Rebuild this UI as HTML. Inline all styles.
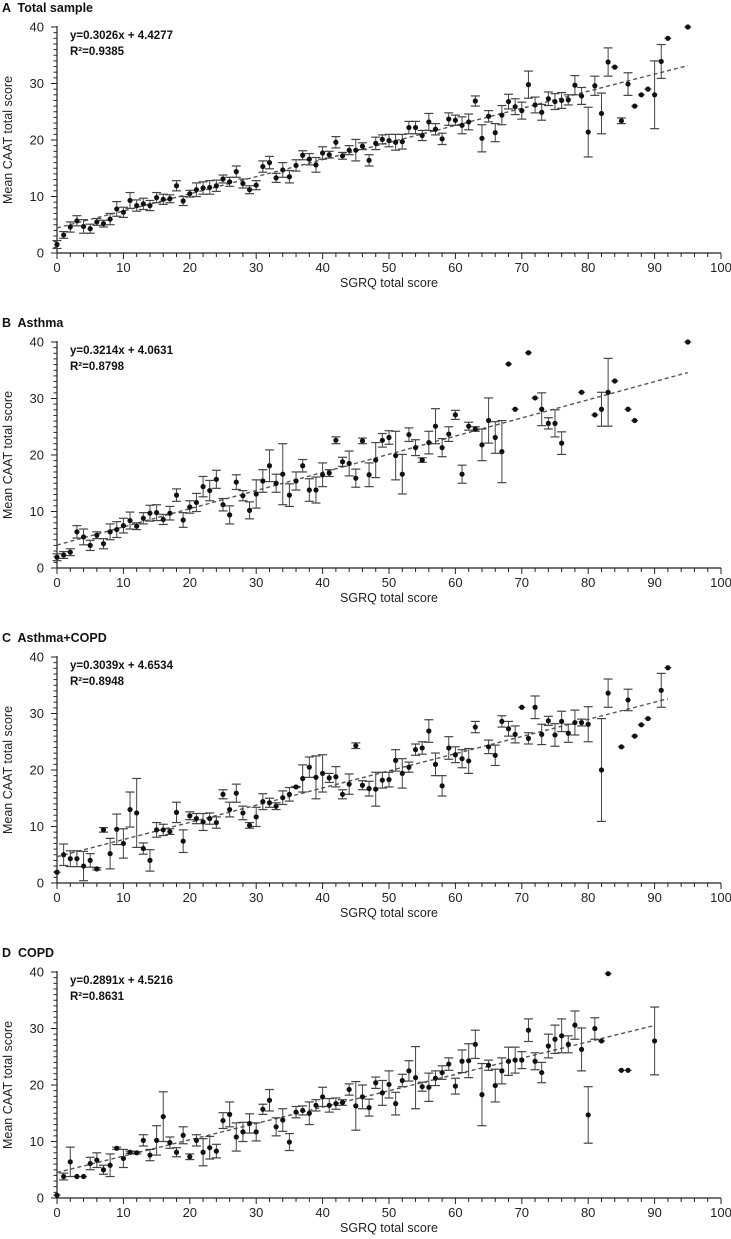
<!DOCTYPE html>
<html><head><meta charset="utf-8">
<style>
html,body{margin:0;padding:0;background:#fff;}
svg{display:block;font-family:"Liberation Sans",Arial,sans-serif;}
</style></head>
<body>
<svg id="chart" width="731" height="1239" viewBox="0 0 731 1239" xmlns="http://www.w3.org/2000/svg"></svg>
<script>
// ---- data: [SGRQ score, mean CAAT, error half-width] ----
const totalSample = [[0,1.5,0.7],[1,3.2,0.6],[2,4.6,0.9],[3,5.7,0.9],[4,4.7,1.2],[5,4.3,0.8],[6,5.5,0.6],[7,5.2,0.6],[8,6.0,1.0],[9,7.8,1.3],[10,7.2,0.9],[11,9.3,1.4],[12,8.4,1.0],[13,8.7,1.0],[14,8.4,0.9],[15,9.8,0.9],[16,9.5,0.9],[17,9.6,0.7],[18,11.9,0.9],[19,9.2,0.8],[20,10.5,0.6],[21,11.2,1.2],[22,11.5,1.1],[23,11.6,1.2],[24,11.9,1.0],[25,13.1,0.7],[26,12.6,0.8],[27,14.4,1.0],[28,12.3,0.8],[29,11.2,0.7],[30,12.0,0.8],[31,15.3,1.0],[32,16.0,1.1],[33,13.3,0.8],[34,14.7,1.3],[35,13.5,1.1],[36,15.5,1.0],[37,17.3,0.8],[38,16.6,1.0],[39,15.6,1.3],[40,17.7,1.1],[41,17.4,0.6],[42,19.6,1.0],[43,17.2,0.6],[44,18.2,0.8],[45,18.2,1.9],[46,18.9,0.6],[47,16.4,1.0],[48,19.4,1.1],[49,20.1,0.8],[50,19.9,1.1],[51,19.6,1.4],[52,19.7,1.3],[53,22.2,1.1],[54,22.2,1.1],[55,20.8,0.9],[56,23.2,1.5],[57,21.9,1.0],[58,20.2,1.0],[59,23.7,1.1],[60,23.5,0.9],[61,22.6,1.5],[62,23.2,1.4],[63,26.9,0.9],[64,20.3,2.4],[65,24.2,1.0],[66,21.3,1.6],[67,24.4,1.7],[68,26.8,1.3],[69,25.9,1.4],[70,25.2,1.5],[71,29.8,2.4],[72,26.2,1.4],[73,24.9,1.4],[74,27.3,1.2],[75,26.8,1.4],[76,27.0,1.4],[77,27.1,0.9],[78,29.7,1.7],[79,27.8,1.5],[80,21.4,4.4],[81,29.6,1.7],[82,24.7,3.6],[83,33.8,2.5],[84,32.9,0],[85,23.4,0.5],[86,29.9,2.0],[87,26.0,0],[88,28.0,0],[89,29.0,0],[90,28.0,6.0],[91,33.9,3.0],[92,38.0,0],[95,40.0,0]];
const asthma = [[0,1.9,0.6],[1,2.3,0.6],[2,2.8,0.6],[3,6.4,1.1],[4,5.5,1.4],[5,4.0,0.9],[6,5.8,0.6],[7,4.3,0.9],[8,6.4,1.4],[9,6.8,1.4],[10,7.5,1.3],[11,8.4,1.5],[12,7.4,0.6],[13,8.8,1.0],[14,9.7,1.4],[15,9.8,1.4],[16,8.6,0.9],[17,9.7,1.2],[18,12.9,1.1],[19,8.5,1.3],[20,10.8,1.1],[21,11.6,1.6],[22,14.4,1.8],[23,13.7,1.8],[24,15.7,1.6],[25,11.2,1.1],[26,9.4,1.6],[27,15.2,1.3],[28,12.8,0.9],[29,10.2,1.5],[30,13.1,2.5],[31,15.4,2.0],[32,18.1,2.8],[33,15.0,1.6],[34,16.6,5.4],[35,12.9,2.0],[36,15.4,1.6],[37,18.1,1.1],[38,13.8,2.0],[39,13.8,2.3],[40,16.5,2.1],[41,16.8,0.6],[42,22.6,0.6],[43,18.8,0.8],[44,18.5,2.2],[45,15.9,1.6],[46,22.5,0.5],[47,16.5,2.1],[48,19.1,3.1],[49,22.6,1.2],[50,23.1,1.2],[51,19.9,4.3],[52,16.6,3.5],[53,23.6,1.2],[54,21.3,1.4],[55,19.1,0.4],[56,22.2,2.0],[57,25.1,3.1],[58,21.3,1.6],[59,23.7,1.3],[60,27.1,0.8],[61,16.6,1.6],[62,25.1,0.7],[63,24.6,0.4],[64,21.8,2.8],[65,26.1,4.0],[66,23.1,2.8],[67,20.6,5.5],[68,36.1,0],[69,28.1,0],[71,38.1,0],[72,30.1,0],[73,28.1,2.9],[74,25.6,1.0],[75,25.6,2.4],[76,22.1,2.0],[79,31.1,0],[81,27.1,0],[82,28.1,3.0],[83,31.1,6.0],[84,33.1,0],[86,28.1,0],[87,26.1,0],[95,40.0,0]];
const asthmaCopd = [[0,1.9,0],[1,5.0,1.9],[2,4.3,1.4],[3,4.3,1.4],[4,3.0,2.6],[5,4.0,1.2],[6,2.5,0.2],[7,9.4,0.4],[8,5.2,2.7],[9,9.5,2.7],[10,7.0,2.6],[11,13.0,3.1],[12,12.4,6.1],[13,6.1,1.0],[14,4.0,1.9],[15,9.4,1.3],[16,9.4,1.0],[17,9.1,0.5],[18,12.5,1.8],[19,7.4,2.0],[20,11.9,0.7],[21,11.4,0.9],[22,10.8,1.5],[23,11.4,1.0],[24,10.7,1.0],[25,15.7,0.8],[26,13.0,1.3],[27,15.9,1.6],[28,12.4,1.2],[29,10.2,0.5],[30,11.7,1.7],[31,14.4,1.4],[32,14.2,0.8],[33,13.6,0.6],[34,15.1,1.2],[35,15.7,1.2],[36,17.0,0.1],[37,18.5,2.4],[38,20.5,1.8],[39,18.7,3.8],[40,19.4,3.3],[41,18.6,0.8],[42,18.8,1.8],[43,15.7,0.8],[44,17.5,1.8],[45,24.3,0.5],[46,17.3,0.8],[47,16.7,1.3],[48,16.6,3.0],[49,18.2,1.4],[50,18.3,1.3],[51,21.7,1.9],[52,19.4,2.6],[53,20.5,0.9],[54,23.6,1.0],[55,23.9,1.1],[56,26.9,2.0],[57,21.0,2.0],[58,17.2,1.8],[59,23.9,2.0],[60,22.7,1.4],[61,22.0,1.6],[62,21.6,2.2],[63,27.6,1.0],[65,24.1,1.2],[66,22.6,1.8],[67,28.6,1.0],[68,27.3,1.3],[69,26.3,1.5],[70,31.1,0],[71,25.6,1.0],[72,31.1,2.0],[73,26.3,1.8],[74,28.7,0.8],[75,26.2,2.0],[76,28.6,1.8],[77,26.5,1.6],[78,28.4,2.2],[79,28.4,0.6],[80,28.1,3.1],[82,20.0,9.1],[83,33.6,2.5],[85,24.1,0],[86,32.4,1.9],[87,26.0,0],[88,28.0,0],[89,29.1,0],[91,34.1,3.0],[92,38.1,0]];
const copd = [[0,0.5,0],[1,3.8,0.6],[2,6.4,2.6],[3,3.8,0],[4,3.8,0],[5,6.1,1.1],[6,6.7,1.3],[7,5.0,0.8],[8,5.8,2.0],[9,8.8,0.2],[10,7.0,1.6],[11,8.1,0.2],[12,8.0,0.2],[13,10.2,1.0],[14,7.6,1.0],[15,10.2,2.6],[16,14.4,4.4],[17,9.8,1.0],[18,8.1,0.8],[19,11.1,1.5],[20,7.3,0.5],[21,10.2,1.0],[22,8.1,2.4],[23,8.9,2.0],[24,8.3,1.2],[25,13.7,1.4],[26,14.8,2.2],[27,10.8,2.5],[28,11.7,1.7],[29,13.2,1.7],[30,11.7,1.6],[31,15.7,0.9],[32,17.3,1.9],[33,12.6,1.6],[34,13.8,2.0],[35,9.9,1.5],[36,15.2,1.0],[37,15.5,0.8],[38,15.0,2.0],[39,16.4,1.0],[40,17.9,1.7],[41,16.4,1.2],[42,16.7,1.0],[43,16.9,0.5],[44,19.2,1.0],[45,16.3,4.3],[46,17.9,2.1],[47,16.0,1.5],[48,20.4,1.0],[49,18.6,2.2],[50,20.1,2.4],[51,16.7,2.0],[52,20.8,1.1],[53,22.5,1.8],[54,21.3,5.5],[55,19.7,0.8],[56,19.6,2.5],[57,21.2,1.3],[58,22.2,1.2],[59,23.7,1.1],[60,19.8,1.4],[61,24.2,2.0],[62,24.3,3.0],[63,27.2,2.5],[64,18.3,5.5],[65,23.5,0.9],[66,19.9,2.9],[67,22.5,2.3],[68,24.2,2.5],[69,24.4,2.3],[70,24.4,1.5],[71,29.7,2.0],[72,24.2,1.5],[73,22.2,1.8],[74,26.9,2.1],[75,28.1,2.5],[76,28.7,3.0],[77,27.2,1.5],[78,30.6,2.5],[79,26.3,3.8],[80,14.7,5.0],[81,30.0,1.9],[82,27.8,0],[83,39.7,0],[85,22.6,0],[86,22.6,0],[90,27.8,6.0]];
const panelTitles = ["A  Total sample","B  Asthma","C  Asthma+COPD","D  COPD"];
const slopes = [0.3026,0.3214,0.3039,0.2891];
const intercepts = [4.4277,4.0631,4.6534,4.5216];
const r2Values = ["0.9385","0.8798","0.8948","0.8631"];
const xTicks = [0,10,20,30,40,50,60,70,80,90,100];
const yTicks = [0,10,20,30,40];

const svg = document.getElementById('chart');
const NS = 'http://www.w3.org/2000/svg';
function mk(tag, attrs, parent, text){
  const e = document.createElementNS(NS, tag);
  for (const k in attrs) e.setAttribute(k, attrs[k]);
  if (text !== undefined) e.textContent = text;
  parent.appendChild(e);
  return e;
}
const X0 = 57, X1 = 721;
const xs = v => X0 + (X1 - X0) * v / 100;

const datasets = [totalSample, asthma, asthmaCopd, copd];
const names = ['total-sample','asthma','asthma-copd','copd'];

datasets.forEach((data, p) => {
  const off = p * 315;
  const Y0 = 253 + off, Y40 = 27 + off;
  const ys = v => Y0 - (Y0 - Y40) * v / 40;
  const g = mk('g', {}, svg);
  
  

  const t = mk('text', {x: 2, y: 12 + off, 'font-size': 12.5, 'font-weight': 'bold', fill: '#111'}, g, panelTitles[p]);
  
  
  t.setAttribute('xml:space', 'preserve');
  t.style.whiteSpace = 'pre';

  // axes
  const ax = mk('g', {stroke: '#222', 'stroke-width': 1.2}, g);
  
  
  mk('line', {x1: X0, y1: Y40 - 1, x2: X0, y2: Y0}, ax);
  mk('line', {x1: X0, y1: Y0, x2: X1, y2: Y0}, ax);
  for (let v = 0; v <= 40; v++) {
    const major = v % 10 === 0;
    mk('line', {x1: X0 - (major ? 6 : 3.5), y1: ys(v), x2: X0, y2: ys(v), 'stroke-width': 1}, ax);
  }
  for (let v = 0; v <= 100; v += 2) {
    const major = v % 10 === 0;
    mk('line', {x1: xs(v), y1: Y0, x2: xs(v), y2: Y0 + (major ? 6 : 4), 'stroke-width': 1}, ax);
  }
  yTicks.forEach(v => {
    const tl = mk('text', {x: 44, y: ys(v) + 4.5, 'font-size': 13, 'text-anchor': 'end', fill: '#222'}, g, String(v));
    
    
  });
  xTicks.forEach(v => {
    const tl = mk('text', {x: xs(v), y: Y0 + 19, 'font-size': 13, 'text-anchor': 'middle', fill: '#222'}, g, String(v));
    
    
  });
  const yt = mk('text', {x: 0, y: 0, 'font-size': 12.5, 'text-anchor': 'middle', fill: '#222', transform: `translate(12,${(Y0 + Y40) / 2}) rotate(-90)`}, g, 'Mean CAAT total score');
  
  
  const xt = mk('text', {x: 389, y: Y0 + 34, 'font-size': 12.5, 'text-anchor': 'middle', fill: '#222'}, g, 'SGRQ total score');
  
  

  // equation
  const eq = mk('text', {x: 70, y: 39 + off, 'font-size': 11.5, 'font-weight': 'bold', fill: '#111'}, g, `y=${slopes[p]}x + ${intercepts[p]}`);
  
  
  const r2 = mk('text', {x: 70, y: 55 + off, 'font-size': 11.5, 'font-weight': 'bold', fill: '#111'}, g, `R²=${r2Values[p]}`);
  
  

  // regression line
  const xmax = Math.max(...data.map(d => d[0]));
  const rl = mk('line', {x1: xs(0), y1: ys(intercepts[p]), x2: xs(xmax), y2: ys(intercepts[p] + slopes[p] * xmax), stroke: '#555', 'stroke-width': 1.4, 'stroke-dasharray': '4,3'}, g);
  
  

  // points with error bars
  data.forEach(d => {
    const cx = xs(d[0]), cy = ys(d[1]);
    const pg = mk('g', {}, g);
    
    
    if (d[2] > 0) {
      const yt2 = ys(d[1] + d[2]), yb = ys(d[1] - d[2]);
      mk('line', {x1: cx, y1: yt2, x2: cx, y2: yb, stroke: '#444', 'stroke-width': 1}, pg);
      mk('line', {x1: cx - 4.5, y1: yt2, x2: cx + 4.5, y2: yt2, stroke: '#444', 'stroke-width': 1.2}, pg);
      mk('line', {x1: cx - 4.5, y1: yb, x2: cx + 4.5, y2: yb, stroke: '#444', 'stroke-width': 1.2}, pg);
    } else {
      mk('line', {x1: cx - 3.5, y1: cy, x2: cx + 3.5, y2: cy, stroke: '#444', 'stroke-width': 1.2}, pg);
    }
    mk('circle', {cx: cx, cy: cy, r: 2.6, fill: '#111'}, pg);
  });
});
</script>
</body></html>
